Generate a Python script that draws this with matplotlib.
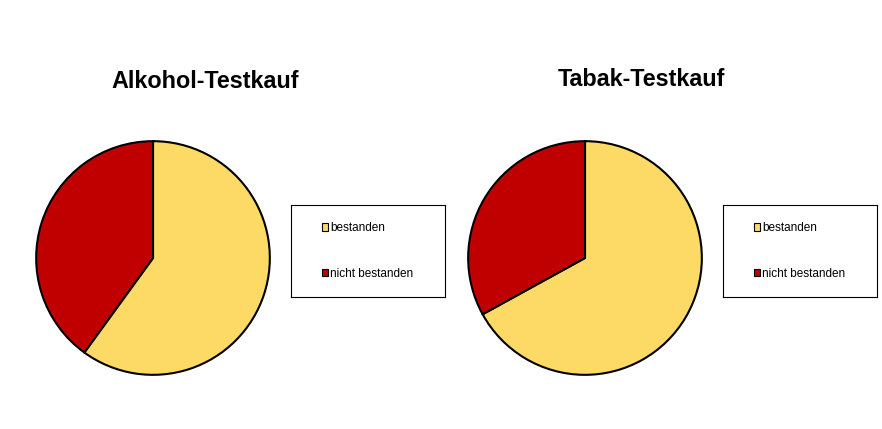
import matplotlib.pyplot as plt
from matplotlib.patches import Patch

plt.rcParams['font.family'] = ['Liberation Sans', 'DejaVu Sans']

# data (percent)
labels = ["bestanden", "nicht bestanden"]
alkohol = [60, 40]
tabak = [67, 33]
titles = ["Alkohol-Testkauf", "Tabak-Testkauf"]
colors = ["#FDD966", "#C00000"]

W, H = 882, 429
fig = plt.figure(figsize=(W / 100, H / 100), dpi=100)


def px_axes(x0, y0, x1, y1):
    """ add axes from pixel box (top-left origin) """
    return fig.add_axes([x0 / W, 1 - y1 / H, (x1 - x0) / W, (y1 - y0) / H])


def draw_chart(values, title, pie_box, leg_box, title_xy):
    ax = px_axes(*pie_box)
    ax.pie(values, colors=colors, startangle=90, counterclock=False,
           wedgeprops={"edgecolor": "black", "linewidth": 1.5})
    ax.set_xlim(-1.01, 1.01)
    ax.set_ylim(-1.01, 1.01)
    ax.set_aspect("equal")

    fig.text(title_xy[0] / W, 1 - title_xy[1] / H, title, ha="center",
             va="center", fontsize=16.8, fontweight="bold")

    # legend box
    lax = px_axes(*leg_box)
    lax.set_xticks([])
    lax.set_yticks([])
    for s in lax.spines.values():
        s.set_linewidth(0.8)
    handles = [Patch(facecolor=c, edgecolor="black", linewidth=0.8)
               for c in colors]
    lax.legend(handles, labels, loc="center left", frameon=False,
               fontsize=8.5, handlelength=0.55, handleheight=0.55,
               handletextpad=0.15, labelspacing=2.85,
               bbox_to_anchor=(0.13, 0.5))


draw_chart(alkohol, titles[0], (35, 140, 271, 376), (291, 205, 445, 297),
           (205, 81))
draw_chart(tabak, titles[1], (467, 140, 703, 376), (723, 205, 877, 297),
           (641, 79))

fig.savefig("out.png", dpi=100)
